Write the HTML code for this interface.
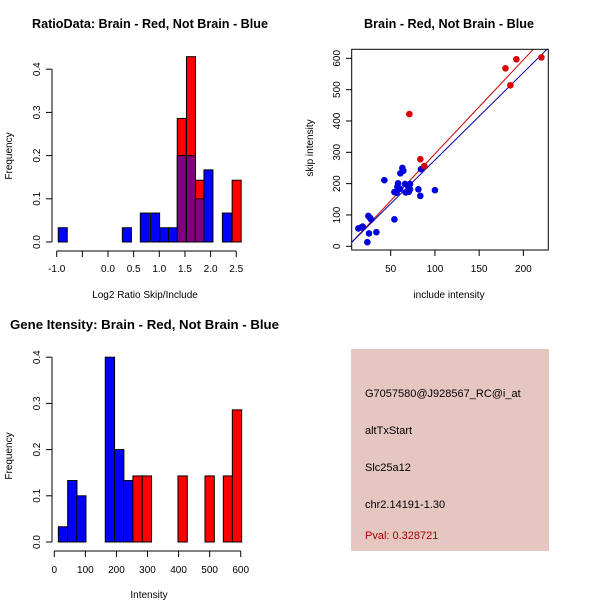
<!DOCTYPE html>
<html><head><meta charset="utf-8"><style>
body{margin:0;background:#fff}
svg{display:block;font-family:"Liberation Sans",sans-serif}
</style></head><body>
<svg id="s" width="600" height="600" viewBox="0 0 600 600">
<rect width="600" height="600" fill="#fff"/>
<text x="32" y="28" font-size="12.5" font-weight="bold" textLength="236" lengthAdjust="spacingAndGlyphs">RatioData: Brain - Red, Not Brain - Blue</text>
<text x="364" y="28" font-size="12.5" font-weight="bold" textLength="170" lengthAdjust="spacingAndGlyphs">Brain - Red, Not Brain - Blue</text>
<text x="10" y="329" font-size="12.5" font-weight="bold" textLength="269" lengthAdjust="spacingAndGlyphs">Gene Itensity: Brain - Red, Not Brain - Blue</text>
<text x="145" y="298" font-size="10" text-anchor="middle">Log2 Ratio Skip/Include</text>
<text x="12" y="156" font-size="10" text-anchor="middle" transform="rotate(-90 12 156)">Frequency</text>
<text x="449" y="298" font-size="10" text-anchor="middle">include intensity</text>
<text x="313" y="148" font-size="10" text-anchor="middle" transform="rotate(-90 313 148)">skip intensity</text>
<text x="149" y="598" font-size="10" text-anchor="middle">Intensity</text>
<text x="12" y="456" font-size="10" text-anchor="middle" transform="rotate(-90 12 456)">Frequency</text>
<g>
<rect x="351" y="349" width="198" height="202" fill="#E6C6C0"/>
<text x="365" y="397" font-size="11">G7057580@J928567_RC@i_at</text>
<text x="365" y="434" font-size="11">altTxStart</text>
<text x="365" y="471" font-size="11">Slc25a12</text>
<text x="365" y="508" font-size="11">chr2.14191-1.30</text>
<text x="365" y="539" font-size="11" fill="#aa0000">Pval: 0.328721</text>
</g>
<g id="g1"></g>
<g id="g2"></g>
<g id="g3"></g>
</svg>
<script>
// Ratio histogram data
const ratioBlueLeft=[-0.97,0.28,0.63,0.83,1.01,1.18,1.35,1.53,1.70,1.87,2.23];
const ratioBlueFreq=[0.033,0.033,0.067,0.067,0.033,0.033,0.2,0.2,0.1,0.167,0.067];
const ratioRedLeft=[1.35,1.53,1.70,2.42];
const ratioRedFreq=[0.286,0.429,0.143,0.143];
const ratioXTicks=[-1,-0.5,0,0.5,1,1.5,2,2.5];
const ratioXLabels=["-1.0","","0.0","0.5","1.0","1.5","2.0","2.5"];
const freqTicks=[0,0.1,0.2,0.3,0.4];
// Scatter data
const redInclude=[179.7,192.1,220.4,185.3,71.1,83.5,88];
const redSkip=[568,597,603,514,422,278,256];
const blueInclude=[100,81.3,83.5,84.3,42.8,63.2,64.3,60.9,58.3,57.5,59,54.2,56.8,60.6,66.2,68.1,70,71.9,71.9,70.4,67,54.2,24.7,26.6,27.8,18.3,16.5,13.4,25.5,33.8,23.6];
const blueSkip=[179,182,161,246,211,250,241,233,201,190,185,173,171,183,199,174,190,199,182,174,172,86,97,91,86,63,60,57,41,45,13];
const redFit=[3.0,-4.9];
const blueFit=[2.79,-3.7];
const scatterXTicks=[50,100,150,200];
const scatterYTicks=[0,100,200,300,400,500,600];
// Intensity histogram data
const intBlueLeft=[13,43,72,164,194,223];
const intBlueFreq=[0.033,0.133,0.1,0.4,0.2,0.133];
const intRedLeft=[253,283,398,485,544,573];
const intRedFreq=[0.143,0.143,0.143,0.143,0.143,0.286];
const intXTicks=[0,100,200,300,400,500,600];

const NS="http://www.w3.org/2000/svg";
function mk(p,t,a){const e=document.createElementNS(NS,t);for(const k in a)e.setAttribute(k,a[k]);p.appendChild(e);return e;}

// ---- Ratio histogram
(function(){
const g=document.getElementById('g1');
const X=v=>56.7+(v+1)*51.3, Y=v=>242-v*432;
const w=0.176;
ratioRedLeft.forEach((l,i)=>{const r=mk(g,'rect',{x:X(l),y:Y(ratioRedFreq[i]),width:X(l+w)-X(l),height:Y(0)-Y(ratioRedFreq[i]),fill:'#ff0000',stroke:'#000','stroke-width':1});

});
ratioBlueLeft.forEach((l,i)=>{const ov=ratioRedLeft.some(x=>Math.abs(x-l)<0.05);
const r=mk(g,'rect',{x:X(l),y:Y(ratioBlueFreq[i]),width:X(l+w)-X(l),height:Y(0)-Y(ratioBlueFreq[i]),fill:ov?'#7f0080':'#0000ff',stroke:'#000','stroke-width':1});

});
mk(g,'line',{x1:52,x2:52,y1:Y(0),y2:Y(0.4),stroke:'#000'});
freqTicks.forEach(v=>{mk(g,'line',{x1:46,x2:52,y1:Y(v),y2:Y(v),stroke:'#000'});
const t=mk(g,'text',{x:40,y:Y(v),'font-size':10,'text-anchor':'middle',transform:`rotate(-90 40 ${Y(v)})`});t.textContent=v.toFixed(1);});
mk(g,'line',{x1:X(-1),x2:X(2.5),y1:251,y2:251,stroke:'#000'});
ratioXTicks.forEach((v,i)=>{mk(g,'line',{x1:X(v),x2:X(v),y1:251,y2:257,stroke:'#000'});
const t=mk(g,'text',{x:X(v),y:272,'font-size':10,'text-anchor':'middle'});t.textContent=ratioXLabels[i];});
})();

// ---- Scatter
(function(){
const g=document.getElementById('g2');
const X=v=>390.7+(v-50)*0.8845, Y=v=>246.3-v*0.3133;
mk(g,'defs',{}).innerHTML='<clipPath id="cp"><rect x="352" y="49" width="196" height="201"/></clipPath>';
const lg=mk(g,'g',{'clip-path':'url(#cp)'});
[[redFit,'#cc0000','red-fit-line'],[blueFit,'#0000aa','blue-fit-line']].forEach(([f,c,n])=>{
const l=mk(lg,'line',{x1:X(0),y1:Y(f[1]),x2:X(260),y2:Y(f[0]*260+f[1]),stroke:c,'stroke-width':1});

});
blueInclude.forEach((v,i)=>{const c=mk(g,'circle',{cx:X(v),cy:Y(blueSkip[i]),r:3.3,fill:'#0000dd'});

});
redInclude.forEach((v,i)=>{const c=mk(g,'circle',{cx:X(v),cy:Y(redSkip[i]),r:3.3,fill:'#dd0000'});

});
mk(g,'rect',{x:351.7,y:49.3,width:196.6,height:200.7,fill:'none',stroke:'#000'});
scatterXTicks.forEach(v=>{mk(g,'line',{x1:X(v),x2:X(v),y1:250,y2:256,stroke:'#000'});
const t=mk(g,'text',{x:X(v),y:272,'font-size':10,'text-anchor':'middle'});t.textContent=v;});
scatterYTicks.forEach(v=>{mk(g,'line',{x1:346,x2:351.7,y1:Y(v),y2:Y(v),stroke:'#000'});
const t=mk(g,'text',{x:340,y:Y(v),'font-size':10,'text-anchor':'middle',transform:`rotate(-90 340 ${Y(v)})`});t.textContent=v;});
})();

// ---- Intensity histogram
(function(){
const g=document.getElementById('g3');
const X=v=>54.3+v*0.3107, Y=v=>542-v*462;
const w=30;
intBlueLeft.forEach((l,i)=>{const r=mk(g,'rect',{x:X(l),y:Y(intBlueFreq[i]),width:X(l+w)-X(l),height:Y(0)-Y(intBlueFreq[i]),fill:'#0000ff',stroke:'#000'});

});
intRedLeft.forEach((l,i)=>{const r=mk(g,'rect',{x:X(l),y:Y(intRedFreq[i]),width:X(l+w)-X(l),height:Y(0)-Y(intRedFreq[i]),fill:'#ff0000',stroke:'#000'});

});
mk(g,'line',{x1:52,x2:52,y1:Y(0),y2:Y(0.4),stroke:'#000'});
freqTicks.forEach(v=>{mk(g,'line',{x1:46,x2:52,y1:Y(v),y2:Y(v),stroke:'#000'});
const t=mk(g,'text',{x:40,y:Y(v),'font-size':10,'text-anchor':'middle',transform:`rotate(-90 40 ${Y(v)})`});t.textContent=v.toFixed(1);});
mk(g,'line',{x1:X(0),x2:X(600),y1:551,y2:551,stroke:'#000'});
intXTicks.forEach(v=>{mk(g,'line',{x1:X(v),x2:X(v),y1:551,y2:557,stroke:'#000'});
const t=mk(g,'text',{x:X(v),y:573,'font-size':10,'text-anchor':'middle'});t.textContent=v;});
})();
</script>
</body></html>
